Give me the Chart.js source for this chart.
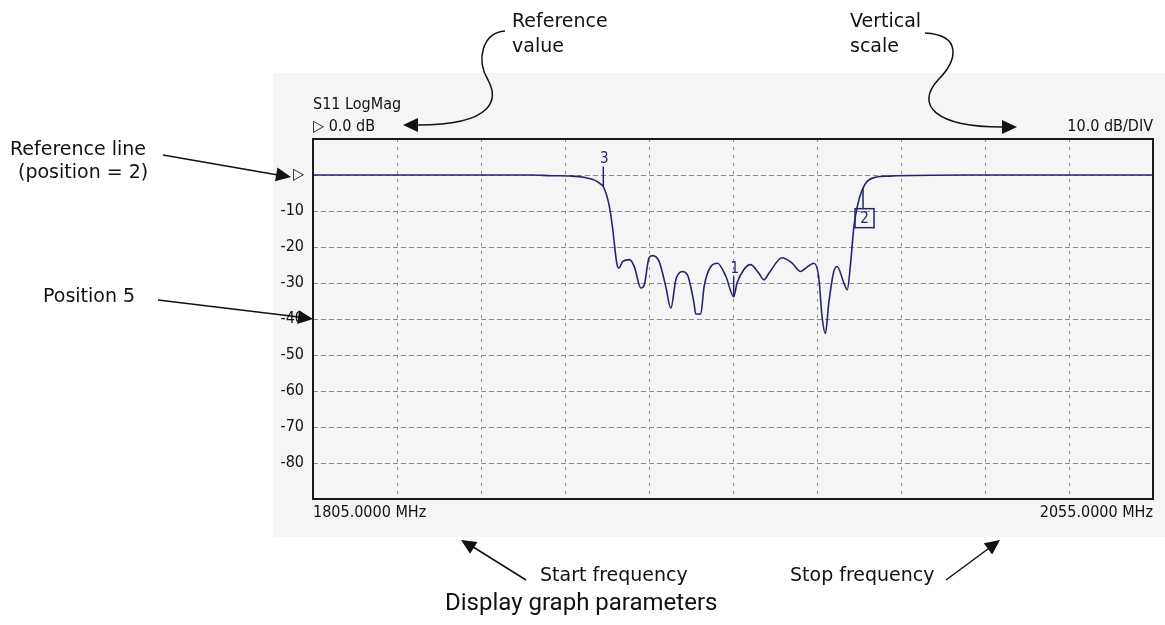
<!DOCTYPE html>
<html>
<head>
<meta charset="utf-8">
<title>S11 LogMag</title>
<script src="https://cdn.jsdelivr.net/npm/chart.js@4.4.1/dist/chart.umd.min.js"></script>
<style>
  html, body { margin: 0; padding: 0; background: #fff; }
  #wrap { width: 1165px; height: 625px; position: relative; }
</style>
</head>
<body>
<div id="wrap"><canvas id="s11Chart"></canvas></div>
<script>
// Trace (MHz / dB)
const freqMHz = [1805, 1840, 1870, 1876, 1882, 1886, 1889, 1890.7, 1891.4, 1893.2, 1894.2, 1895.4, 1896,
  1897.2, 1899.2, 1900.6, 1902.6, 1903.6, 1905, 1906, 1908, 1910, 1911.5, 1913, 1914.9, 1916.4, 1918.4,
  1918.9, 1920.4, 1921.4, 1923.4, 1925.4, 1927.9, 1930.2, 1931.2, 1933.2, 1935.2, 1937.7, 1939.2, 1940.7,
  1944.6, 1947.6, 1950.1, 1951.6, 1954.1, 1955.5, 1956.5, 1957.5, 1958.5, 1960, 1961, 1963, 1964, 1965,
  1966, 1967, 1968.5, 1970, 1972.5, 1976.5, 2000, 2055];
const s11dB = [0, 0, 0, -0.2, -0.3, -0.7, -1.5, -2.6, -3.2, -8.7, -15, -24.5, -25.9,
  -24, -23.5, -25.4, -31.4, -30.5, -23, -22.4, -24, -31, -37, -29.1, -26.8, -27.7, -35.6,
  -38.6, -38.6, -31, -25.4, -24.5, -28.2, -33.8, -30, -26.3, -24.9, -27.3, -29.1, -27.3,
  -23, -24.5, -26.8, -25.9, -24.5, -28.2, -39.3, -44, -35.6, -26.8, -25.4, -30, -31.9, -24.5,
  -14.2, -8.7, -4, -1.7, -0.6, -0.3, 0, 0];

// markers
const markerNames = ['1', '2', '3'];
const markerFreqs = [1930.2, 1968.7, 1891.4];
const markerVals = [-33.8, -3.8, -3.2];

// axis settings
const startFreq = 1805;
const stopFreq = 2055;
const freqStep = 25;
const refValue = 0;
const dbPerDiv = 10;
const yTop = 10;
const yBottom = -90;

const traceColor = '#25256f';
const narrowFont = "'Liberation Sans Narrow', 'DejaVu Sans Condensed', sans-serif";
const noteFont = "'DejaVu Sans', Verdana, sans-serif";

function arrowHead(ctx, x, y, angle, len = 15, half = 7) {
    ctx.save();
    ctx.translate(x, y);
    ctx.rotate(angle);
    ctx.beginPath();
    ctx.moveTo(0, 0);
    ctx.lineTo(-len, -half);
    ctx.lineTo(-len, half);
    ctx.closePath();
    ctx.fill();
    ctx.restore();
}

const screenPlugin = {
    id: 'screen',
    beforeDraw(chart) {
        const ctx = chart.ctx;
        ctx.save();
        ctx.fillStyle = '#ffffff';
        ctx.fillRect(0, 0, chart.width, chart.height);
        // grey instrument panel
        ctx.fillStyle = '#f5f5f5';
        ctx.fillRect(273, 73, chart.width - 273, 464);
        ctx.restore();
    },
    afterDraw(chart) {
        const ctx = chart.ctx;
        const a = chart.chartArea;
        const xs = chart.scales.x, ys = chart.scales.y;
        ctx.save();

        // frame
        ctx.strokeStyle = '#1a1a1a';
        ctx.lineWidth = 2;
        ctx.strokeRect(a.left, a.top, a.right - a.left, a.bottom - a.top);

        // header
        ctx.fillStyle = '#111';
        ctx.font = '16px ' + narrowFont;
        ctx.textBaseline = 'alphabetic';
        ctx.textAlign = 'left';
        ctx.fillText('S11 LogMag', a.left, 109);
        ctx.fillText('\u25B7 ' + refValue.toFixed(1) + ' dB', a.left, 131);
        ctx.textAlign = 'right';
        ctx.fillText(dbPerDiv.toFixed(1) + ' dB/DIV', a.right, 131);

        // markers
        ctx.strokeStyle = traceColor;
        ctx.fillStyle = traceColor;
        ctx.lineWidth = 1.5;
        ctx.font = '15px ' + narrowFont;
        ctx.textAlign = 'center';
        markerNames.forEach((name, i) => {
            const px = xs.getPixelForValue(markerFreqs[i]);
            const py = ys.getPixelForValue(markerVals[i]);
            ctx.beginPath();
            if (name === '2') {
                // active marker: box below the trace
                ctx.moveTo(px, py);
                ctx.lineTo(px, py + 20);
                ctx.stroke();
                ctx.strokeRect(px - 8, py + 20, 19, 19);
                ctx.textBaseline = 'middle';
                ctx.fillText(name, px + 1.5, py + 30);
            } else {
                ctx.moveTo(px, py);
                ctx.lineTo(px, py - 20);
                ctx.stroke();
                ctx.textBaseline = 'bottom';
                ctx.fillText(name, px + 1, py - 20);
            }
        });

        // annotations
        ctx.fillStyle = '#111';
        ctx.strokeStyle = '#111';
        ctx.lineWidth = 1.5;
        ctx.font = '19px ' + noteFont;
        ctx.textBaseline = 'middle';
        ctx.textAlign = 'left';
        ctx.fillText('Reference', 512, 22);
        ctx.fillText('value', 512, 47);
        ctx.fillText('Vertical', 850, 22);
        ctx.fillText('scale', 850, 47);
        ctx.fillText('Reference line', 10, 150);
        ctx.fillText('(position = 2)', 18, 173);
        ctx.fillText('Position 5', 43, 297);
        ctx.fillText('Start frequency', 540, 576);
        ctx.fillText('Stop frequency', 790, 576);

        ctx.font = '24px Roboto, sans-serif';
        ctx.fillText('Display graph parameters', 445, 604);

        // reference value curl
        ctx.beginPath();
        ctx.moveTo(505, 31);
        ctx.bezierCurveTo(482, 33, 476, 60, 488, 80);
        ctx.bezierCurveTo(498, 98, 496, 125, 418, 125);
        ctx.stroke();
        arrowHead(ctx, 403, 125, Math.PI);

        // vertical scale curl
        ctx.beginPath();
        ctx.moveTo(925, 33);
        ctx.bezierCurveTo(962, 35, 958, 60, 938, 80);
        ctx.bezierCurveTo(915, 105, 935, 127, 1002, 127);
        ctx.stroke();
        arrowHead(ctx, 1017, 127, 0);

        // reference line arrow
        const y0 = ys.getPixelForValue(refValue);
        ctx.beginPath();
        ctx.moveTo(163, 155);
        ctx.lineTo(278, 175);
        ctx.stroke();
        arrowHead(ctx, 291, y0 + 2, Math.atan2(22, 128));

        // position 5 arrow
        const y5 = ys.getPixelForValue(-40);
        ctx.beginPath();
        ctx.moveTo(158, 300);
        ctx.lineTo(a.left - 14, y5 - 2);
        ctx.stroke();
        arrowHead(ctx, a.left, y5, Math.atan2(y5 - 300, a.left - 158));

        // start / stop frequency arrows
        ctx.beginPath();
        ctx.moveTo(526, 580);
        ctx.lineTo(470, 545);
        ctx.stroke();
        arrowHead(ctx, 461, 540, Math.atan2(540 - 580, 461 - 526));

        ctx.beginPath();
        ctx.moveTo(946, 580);
        ctx.lineTo(992, 546);
        ctx.stroke();
        arrowHead(ctx, 1000, 540, Math.atan2(540 - 580, 1000 - 946));

        ctx.restore();
    }
};

const ctx = document.getElementById('s11Chart').getContext('2d');
new Chart(ctx, {
    type: 'line',
    data: {
        datasets: [{
            label: 'S11',
            data: freqMHz.map((f, i) => ({ x: f, y: s11dB[i] })),
            borderColor: traceColor,
            borderWidth: 1.6,
            pointRadius: 0,
            tension: 0.3,
            cubicInterpolationMode: 'monotone',
            fill: false
        }]
    },
    options: {
        responsive: true,
        maintainAspectRatio: false,
        animation: false,
        events: [],
        layout: { padding: { left: 273, right: 12, top: 139, bottom: 100 } },
        plugins: { legend: { display: false }, tooltip: { enabled: false } },
        scales: {
            x: {
                type: 'linear',
                min: startFreq,
                max: stopFreq,
                afterFit: (s) => { s.height = 26; },
                grid: {
                    color: (c) => (c.tick && (c.tick.value === startFreq || c.tick.value === stopFreq)) ? 'rgba(0,0,0,0)' : '#8a8a8a',
                    lineWidth: 1,
                    drawTicks: false
                },
                border: { display: false, dash: [3, 5] },
                ticks: {
                    stepSize: freqStep,
                    autoSkip: false,
                    maxRotation: 0,
                    align: 'inner',
                    padding: 4,
                    color: '#111',
                    font: { family: narrowFont, size: 16 },
                    callback: (v) => (v === startFreq || v === stopFreq) ? v.toFixed(4) + ' MHz' : ''
                }
            },
            y: {
                min: yBottom,
                max: yTop,
                afterFit: (s) => { s.width = 40; },
                grid: {
                    color: (c) => (c.tick && (c.tick.value === yTop || c.tick.value === yBottom)) ? 'rgba(0,0,0,0)' : '#8a8a8a',
                    lineWidth: 1,
                    drawTicks: false
                },
                border: { display: false, dash: [5, 3] },
                ticks: {
                    stepSize: dbPerDiv,
                    autoSkip: false,
                    padding: 9,
                    color: '#111',
                    font: { family: narrowFont, size: 16 },
                    callback: (v) => v === refValue ? '\u25B7' : (v < refValue && v > yBottom ? String(v) : '')
                }
            }
        }
    },
    plugins: [screenPlugin]
});
</script>
</body>
</html>
